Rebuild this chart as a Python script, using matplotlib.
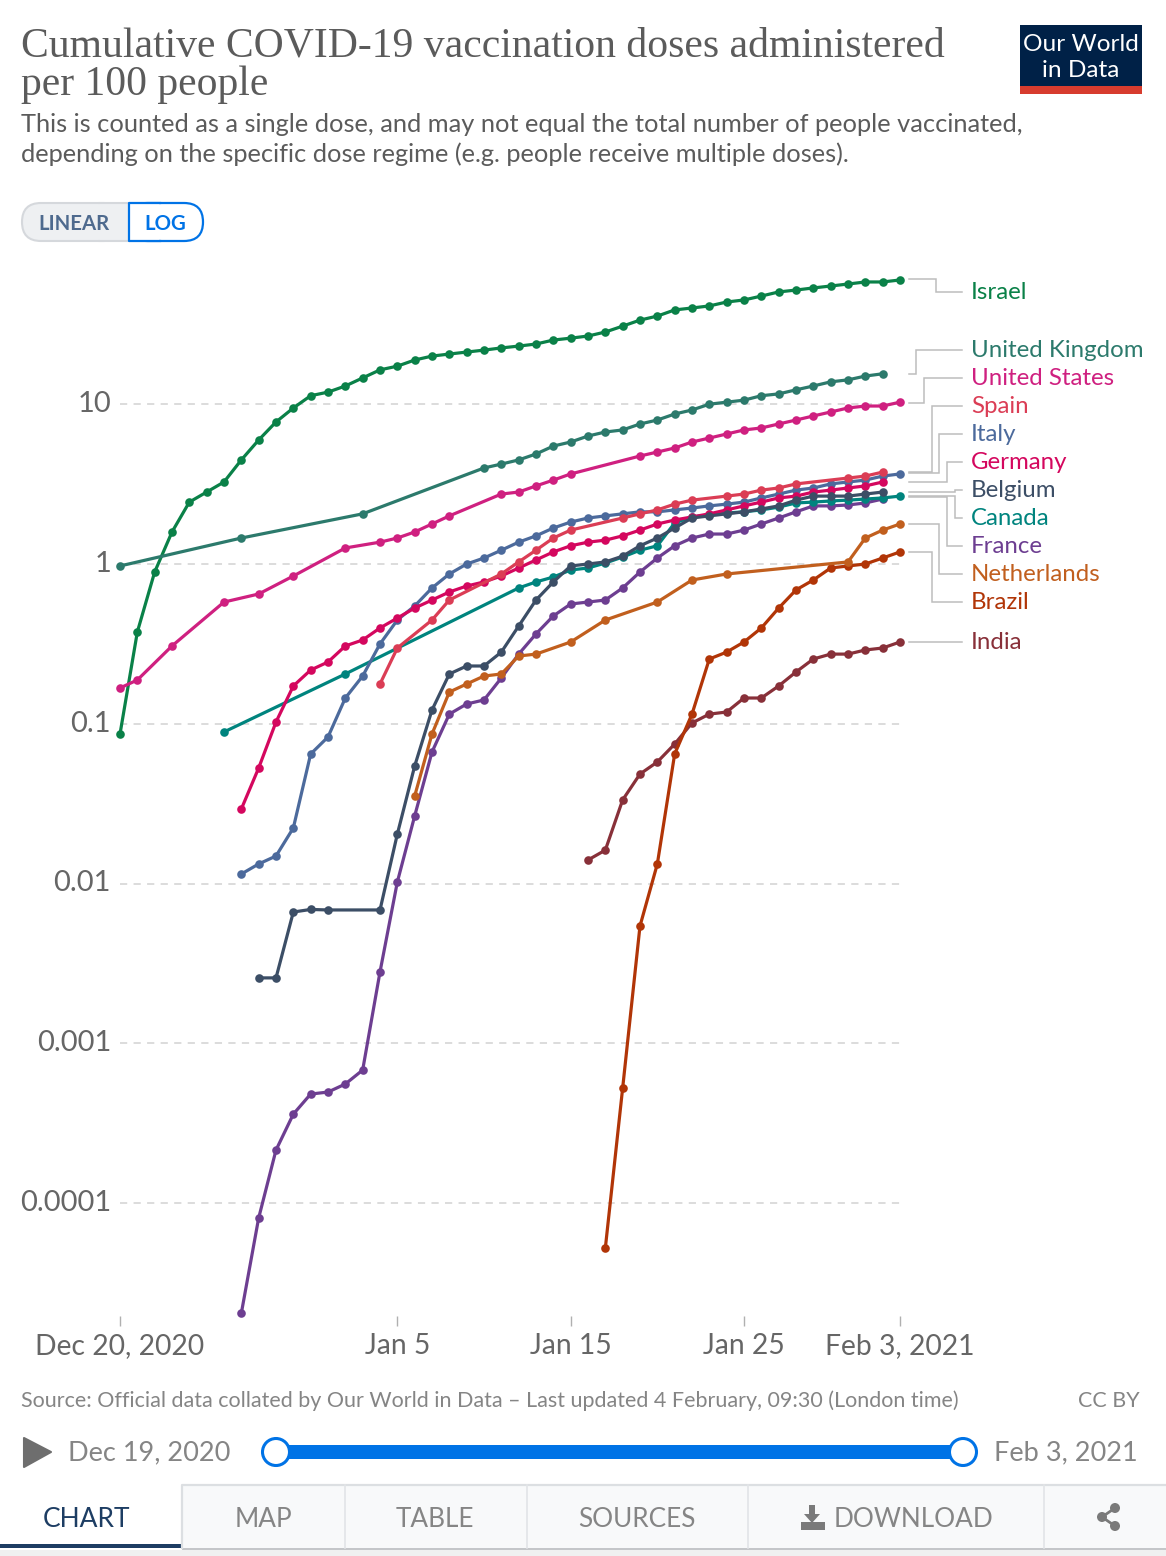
import pandas as pd
import matplotlib
matplotlib.use('Agg')
import matplotlib.pyplot as plt
from matplotlib.patches import Rectangle, FancyBboxPatch, Polygon, Circle
from matplotlib.transforms import ScaledTranslation

plt.rcParams['font.family'] = ['Lato', 'DejaVu Sans']

# day numbers count from Dec 20, 2020
start = pd.Timestamp('2020-12-20')

israel_days = list(range(0, 46))
israel_vals = [0.0863, 0.3755, 0.891, 1.586, 2.44, 2.82, 3.26, 4.48, 5.97, 7.74, 9.47, 11.3, 11.9, 13.0, 14.6, 16.4,
               17.3, 18.9, 20.0, 20.6, 21.2, 21.8, 22.5, 23.1, 23.8, 25.2, 25.9, 26.7, 28.3, 30.8, 33.6, 35.6, 38.9,
               40.0, 41.2, 43.6, 44.9, 47.5, 50.4, 51.8, 53.4, 54.9, 56.5, 58.2, 58.2, 59.9]

uk_days = [0, 7, 14] + list(range(21, 45))
uk_vals = [0.972, 1.454, 2.06, 3.99, 4.22, 4.48, 4.88, 5.47, 5.80, 6.32, 6.70, 6.90, 7.52, 7.96, 8.68, 9.20, 10.0,
           10.3, 10.6, 11.3, 11.6, 12.3, 13.0, 13.8, 14.2, 15.0, 15.5]

us_days = [0, 1, 3, 6, 8, 10, 13, 15, 16, 17, 18, 19, 22, 23, 24, 25, 26] + list(range(30, 46))
us_vals = [0.1675, 0.188, 0.307, 0.578, 0.649, 0.841, 1.26, 1.37, 1.454, 1.586, 1.78, 2.0, 2.74, 2.82, 3.08, 3.35,
           3.66, 4.74, 5.02, 5.32, 5.80, 6.14, 6.51, 6.90, 7.10, 7.52, 7.96, 8.44, 8.94, 9.47, 9.74, 9.74, 10.3]

spain_days = [15, 16, 18, 19, 22, 23, 24, 25, 26, 29, 30, 31, 32, 33, 35, 36, 37, 38, 39, 42, 43, 44]
spain_vals = [0.1775, 0.298, 0.446, 0.595, 0.866, 1.03, 1.22, 1.454, 1.63, 1.94, 2.06, 2.18, 2.37, 2.51, 2.66, 2.74,
              2.90, 2.99, 3.17, 3.45, 3.55, 3.76]

italy_days = list(range(7, 46))
italy_vals = [0.01148, 0.01327, 0.01488, 0.0223, 0.0647, 0.0827, 0.145, 0.199, 0.316, 0.446, 0.546, 0.708, 0.866,
              1.0, 1.09, 1.22, 1.37, 1.50, 1.68, 1.83, 1.94, 2.0, 2.06, 2.12, 2.12, 2.18, 2.24, 2.31, 2.37, 2.44,
              2.59, 2.74, 2.90, 2.99, 3.17, 3.26, 3.35, 3.55, 3.66]

germany_days = list(range(7, 45))
germany_vals = [0.0293, 0.0529, 0.1026, 0.1725, 0.217, 0.2436, 0.307, 0.3345, 0.3977, 0.459, 0.530, 0.595, 0.668,
                0.728, 0.772, 0.841, 0.944, 1.06, 1.19, 1.30, 1.37, 1.41, 1.50, 1.63, 1.78, 1.885, 1.97, 2.06, 2.18,
                2.31, 2.44, 2.59, 2.66, 2.82, 2.90, 2.99, 3.08, 3.26]

belgium_days = [8, 9, 10, 11, 12] + list(range(15, 45))
belgium_vals = [0.00257, 0.00257, 0.00664, 0.00689, 0.00684, 0.00684, 0.0204, 0.0544, 0.122, 0.205, 0.230, 0.230,
                0.281, 0.409, 0.595, 0.772, 0.972, 1.0, 1.03, 1.12, 1.30, 1.454, 1.68, 1.94, 2.0, 2.06, 2.12, 2.21,
                2.31, 2.51, 2.66, 2.66, 2.66, 2.74, 2.82]

canada_days = [6, 13] + list(range(23, 46))
canada_vals = [0.0889, 0.205, 0.708, 0.772, 0.829, 0.917, 0.944, 1.014, 1.106, 1.22, 1.30, 1.806, 1.97, 2.03, 2.085,
               2.12, 2.18, 2.27, 2.41, 2.44, 2.48, 2.51, 2.55, 2.59, 2.66]

france_days = list(range(7, 45))
france_vals = [2.05e-5, 8.08e-5, 2.15e-4, 3.61e-4, 4.82e-4, 4.96e-4, 5.57e-4, 6.81e-4, 0.0028, 0.01023, 0.0265,
               0.0666, 0.115, 0.133, 0.141, 0.1935, 0.273, 0.365, 0.473, 0.562, 0.578, 0.595, 0.708, 0.891, 1.09,
               1.30, 1.454, 1.54, 1.54, 1.63, 1.78, 1.94, 2.12, 2.31, 2.31, 2.34, 2.41, 2.55]

netherlands_days = [17, 18, 19, 20, 21, 22, 23, 24, 26, 28, 31, 33, 35, 42, 43, 44, 45]
netherlands_vals = [0.0353, 0.0863, 0.158, 0.1775, 0.199, 0.205, 0.2656, 0.273, 0.325, 0.446, 0.578, 0.794, 0.866,
                    1.03, 1.454, 1.63, 1.78]

brazil_days = list(range(28, 46))
brazil_vals = [5.24e-5, 5.26e-4, 0.00543, 0.01327, 0.0647, 0.115, 0.2544, 0.281, 0.325, 0.3977, 0.530, 0.688, 0.794,
               0.944, 0.972, 1.0, 1.09, 1.19]

india_days = list(range(27, 46))
india_vals = [0.01405, 0.0162, 0.0334, 0.0485, 0.0577, 0.0747, 0.1012, 0.115, 0.1185, 0.145, 0.145, 0.1725, 0.211,
              0.2544, 0.273, 0.273, 0.2897, 0.298, 0.325]

y_ticks = [10, 1, 0.1, 0.01, 0.001, 0.0001]
y_labels = ['10', '1', '0.1', '0.01', '0.001', '0.0001']
x_ticks = ['2020-12-20', '2021-01-05', '2021-01-15', '2021-01-25', '2021-02-03']
x_labels = ['Dec 20, 2020', 'Jan 5', 'Jan 15', 'Jan 25', 'Feb 3, 2021']

# drawn in this order, last on top
series = [
    ('Israel', israel_days, israel_vals, '#0A8148'),
    ('United Kingdom', uk_days, uk_vals, '#2C7A6C'),
    ('United States', us_days, us_vals, '#CF2080'),
    ('France', france_days, france_vals, '#6D3E91'),
    ('Canada', canada_days, canada_vals, '#00847E'),
    ('Italy', italy_days, italy_vals, '#4C6A9C'),
    ('Germany', germany_days, germany_vals, '#D4075E'),
    ('Belgium', belgium_days, belgium_vals, '#3C4E66'),
    ('Spain', spain_days, spain_vals, '#DB3D55'),
    ('India', india_days, india_vals, '#883039'),
    ('Brazil', brazil_days, brazil_vals, '#B13507'),
    ('Netherlands', netherlands_days, netherlands_vals, '#C15F1E'),
]
colors = {name: c for name, d, v, c in series}

W, H = 1166, 1556
fig = plt.figure(figsize=(W / 100, H / 100), dpi=100, facecolor='white')

# page furniture is placed in pixel units
page = fig.add_axes([0, 0, 1, 1])
page.set_xlim(0, W)
page.set_ylim(H, 0)
page.axis('off')

grey = '#5b5b5b'
for line, y in [('Cumulative COVID-19 vaccination doses administered', 46), ('per 100 people', 85)]:
    page.text(21, y, line, fontsize=30, family=['Liberation Serif', 'DejaVu Serif'], color=grey, va='center')
for line, y in [('This is counted as a single dose, and may not equal the total number of people vaccinated,', 124),
                ('depending on the specific dose regime (e.g. people receive multiple doses).', 154)]:
    page.text(21, y, line, fontsize=18.3, color=grey, va='center')

# logo
page.add_patch(Rectangle((1020, 25), 122, 62, fc='#002147', ec='none'))
page.add_patch(Rectangle((1020, 86), 122, 8, fc='#D73C2E', ec='none'))
page.text(1081, 44, 'Our World', color='white', fontsize=17.6, ha='center', va='center')
page.text(1081, 70, 'in Data', color='white', fontsize=17.6, ha='center', va='center')

# linear / log switch
page.add_patch(FancyBboxPatch((129, 203), 74, 38, boxstyle='round,pad=0,rounding_size=19', fc='white',
                              ec='#0073E6', lw=1.6))
page.add_patch(FancyBboxPatch((22, 203), 100, 38, boxstyle='round,pad=0,rounding_size=19', fc='#eef0f2',
                              ec='#d5d8dc', lw=1.5))
page.add_patch(Rectangle((100, 204), 28, 36, fc='#eef0f2', ec='none'))
page.plot([100, 128], [203, 203], color='#d5d8dc', lw=1.5)
page.plot([100, 128], [241, 241], color='#d5d8dc', lw=1.5)
page.add_patch(Rectangle((129, 203), 30, 38, fc='white', ec='none'))
page.plot([160, 129, 129, 160], [203, 203, 241, 241], color='#0073E6', lw=1.6)
page.text(74, 223.5, 'LINEAR', color='#4E6A8E', fontsize=14.7, fontweight='bold', ha='center', va='center')
page.text(165.5, 223.5, 'LOG', color='#0073E6', fontsize=14.7, fontweight='bold', ha='center', va='center')

# leader lines and end labels
leaders = {
    'Israel': [(909, 279), (936, 279), (936, 292), (962, 292)],
    'United Kingdom': [(909, 374), (916, 374), (916, 350), (962, 350)],
    'United States': [(909, 403), (924, 403), (924, 378), (962, 378)],
    'Spain': [(909, 472), (932, 472), (932, 406), (962, 406)],
    'Italy': [(909, 473), (939, 473), (939, 434), (962, 434)],
    'Germany': [(909, 482), (947, 482), (947, 462), (962, 462)],
    'Belgium': [(909, 492), (955, 492), (955, 490), (962, 490)],
    'Canada': [(909, 496), (955, 496), (955, 518), (962, 518)],
    'France': [(909, 497), (947, 497), (947, 546), (962, 546)],
    'Netherlands': [(909, 524), (939, 524), (939, 574), (962, 574)],
    'Brazil': [(909, 552), (932, 552), (932, 602), (962, 602)],
    'India': [(909, 642), (962, 642)],
}
for name, pts in leaders.items():
    page.plot([p[0] for p in pts], [p[1] for p in pts], color='#bdbdbd', lw=1.1, solid_joinstyle='miter')
    page.text(971, pts[-1][1] + 0.5, name, color=colors[name], fontsize=17.3, va='center')

# source line
page.text(21, 1401, 'Source: Official data collated by Our World in Data \u2013 Last updated 4 February, 09:30 (London time)',
          color='#858585', fontsize=15.45, va='center')
page.text(1140, 1401, 'CC BY', color='#858585', fontsize=15.45, va='center', ha='right')

# timeline
page.add_patch(Polygon([(24, 1438), (51, 1452), (24, 1467)], closed=True, fc='#6e6e6e', ec='#6e6e6e', lw=1.5,
                       joinstyle='round'))
page.text(68, 1453, 'Dec 19, 2020', color='#858585', fontsize=19.5, va='center')
page.text(1138, 1453, 'Feb 3, 2021', color='#858585', fontsize=19.5, va='center', ha='right')
page.add_patch(Rectangle((276, 1445), 687, 14, fc='#0073E6', ec='none'))
for cx in [276, 963]:
    page.add_patch(Circle((cx, 1453), 14, fc='#cccccc', ec='none', alpha=0.5))
    page.add_patch(Circle((cx, 1452), 13.5, fc='white', ec='#0073E6', lw=2.2))

# tabs
page.add_patch(Rectangle((182, 1485), 984, 63, fc='#f8f9fa', ec='none'))
page.plot([182, 182, 1166], [1548, 1485, 1485], color='#dcdfe2', lw=1.6)
for sx in [345, 527, 748, 1044]:
    page.plot([sx, sx], [1485, 1548], color='#e2e4e7', lw=1.2)
page.add_patch(Rectangle((0, 1544), 182, 4, fc='#1D3D63', ec='none'))
page.add_patch(Rectangle((182, 1548), 984, 2, fc='#c4c6c9', ec='none'))
page.add_patch(Rectangle((0, 1550), W, 6, fc='#f0f0f0', ec='none'))
page.text(86, 1519.5, 'CHART', color='#1D3D63', fontsize=19, ha='center', va='center')
for label, cx in [('MAP', 263), ('TABLE', 435), ('SOURCES', 637), ('DOWNLOAD', 913)]:
    page.text(cx, 1519.5, label, color='#858585', fontsize=18.8, ha='center', va='center')

# download icon
page.add_patch(Polygon([(809, 1505), (815, 1505), (815, 1514), (820, 1514), (812, 1523), (804, 1514), (809, 1514)],
                       closed=True, fc='#7a7a7a', ec='none'))
page.add_patch(Rectangle((801, 1522), 24, 8, fc='#7a7a7a', ec='none'))

# share icon
page.plot([1115, 1102, 1115], [1508, 1517, 1526], color='#7a7a7a', lw=2)
for cx, cy in [(1115, 1508), (1102, 1517), (1115, 1526)]:
    page.add_patch(Circle((cx, cy), 5, fc='#7a7a7a', ec='none'))

# the chart itself, on a log scale
top_px, bottom_px = 270, 1316
ax = fig.add_axes([120 / W, 1 - bottom_px / H, 780 / W, (bottom_px - top_px) / H])
ax.patch.set_alpha(0)
ax.set_yscale('log')
ax.set_ylim(10 ** ((564 - bottom_px) / 159.8), 10 ** ((564 - top_px) / 159.8))
ax.set_xlim(start, start + pd.Timedelta(days=45))

for name, days, vals, color in series:
    dates = [start + pd.Timedelta(days=d) for d in days]
    ax.plot(dates, vals, '-o', color=color, lw=2.3, ms=6.2, mew=0, clip_on=False, zorder=3)

ax.set_yticks(y_ticks)
ax.set_yticklabels(y_labels)
ax.minorticks_off()
ax.set_xticks([pd.Timestamp(d) for d in x_ticks])
ax.set_xticklabels(x_labels)
ax.grid(True, axis='y', color='#d9d9d9', lw=1.3, ls=(0, (4, 3.5)))
ax.set_axisbelow(True)
ax.tick_params(axis='y', length=0, pad=6.4, labelsize=21, labelcolor='#666666')
ax.tick_params(axis='x', length=7, width=1, color='#b0b0b0', pad=5.5, labelsize=20.3, labelcolor='#666666')
for s in ax.spines.values():
    s.set_visible(False)

# y labels sit slightly above their gridlines
up = ScaledTranslation(0, 2 / 72, fig.dpi_scale_trans)
for lab in ax.get_yticklabels():
    lab.set_transform(lab.get_transform() + up)

fig.savefig('out.png', dpi=100)
